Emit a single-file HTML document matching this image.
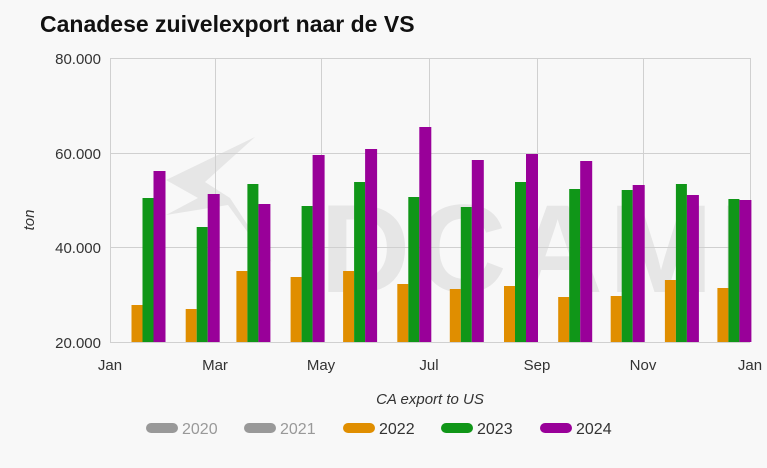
<!DOCTYPE html>
<html><head><meta charset="utf-8"><style>
html,body{margin:0;padding:0;background:#f8f8f8;}
</style></head><body>
<svg width="767" height="463" xmlns="http://www.w3.org/2000/svg" font-family="Liberation Sans, sans-serif">
<rect width="767" height="463" fill="#f8f8f8"/>
<text x="40" y="32" font-size="23" font-weight="bold" fill="#111">Canadese zuivelexport naar de VS</text>
<g fill="#e6e6e6">
<polygon points="255,137 166,180 198,198 166,215 228,205 262,252 272,262 230,198 205,182"/>
<text x="320" y="292" font-size="125" font-weight="bold" letter-spacing="6">DCAMI</text>
</g>
<g stroke="#d0d0d0" stroke-width="1" fill="none">
<line x1="110" y1="58.5" x2="750" y2="58.5"/>
<line x1="110" y1="153.5" x2="750" y2="153.5"/>
<line x1="110" y1="247.5" x2="750" y2="247.5"/>
<line x1="110" y1="342.5" x2="750" y2="342.5"/>
<line x1="110.5" y1="58" x2="110.5" y2="342"/>
<line x1="215.5" y1="58" x2="215.5" y2="342"/>
<line x1="321.5" y1="58" x2="321.5" y2="342"/>
<line x1="429.5" y1="58" x2="429.5" y2="342"/>
<line x1="537.5" y1="58" x2="537.5" y2="342"/>
<line x1="643.5" y1="58" x2="643.5" y2="342"/>
<line x1="750.5" y1="58" x2="750.5" y2="342"/>
</g>
<g font-size="15" fill="#333" text-anchor="end">
<text x="101" y="64">80.000</text>
<text x="101" y="159">60.000</text>
<text x="101" y="253">40.000</text>
<text x="101" y="348">20.000</text>
</g>
<g font-size="15" fill="#333" text-anchor="middle">
<text x="110" y="370">Jan</text>
<text x="215" y="370">Mar</text>
<text x="321" y="370">May</text>
<text x="429" y="370">Jul</text>
<text x="537" y="370">Sep</text>
<text x="643" y="370">Nov</text>
<text x="750" y="370">Jan</text>
</g>
<text x="430" y="404" font-size="15" font-style="italic" fill="#333" text-anchor="middle">CA export to US</text>
<text transform="translate(34,220) rotate(-90)" font-size="15" font-style="italic" fill="#333" text-anchor="middle">ton</text>
<g font-size="16">
<rect x="146" y="423" width="32" height="10" rx="5" fill="#999"/><text x="182" y="434" fill="#999">2020</text>
<rect x="244" y="423" width="32" height="10" rx="5" fill="#999"/><text x="280" y="434" fill="#999">2021</text>
<rect x="343" y="423" width="32" height="10" rx="5" fill="#e08e00"/><text x="379" y="434" fill="#333">2022</text>
<rect x="441" y="423" width="32" height="10" rx="5" fill="#109618"/><text x="477" y="434" fill="#333">2023</text>
<rect x="540" y="423" width="32" height="10" rx="5" fill="#990099"/><text x="576" y="434" fill="#333">2024</text>
</g>
<g>
<rect x="131.5" y="305" width="11" height="37" fill="#e08e00"/><rect x="142.5" y="198" width="11" height="144" fill="#109618"/><rect x="153.5" y="171" width="12" height="171" fill="#990099"/>
<rect x="185.7" y="309" width="11" height="33" fill="#e08e00"/><rect x="196.7" y="227" width="11" height="115" fill="#109618"/><rect x="207.7" y="194" width="12" height="148" fill="#990099"/>
<rect x="236.4" y="271" width="11" height="71" fill="#e08e00"/><rect x="247.4" y="184" width="11" height="158" fill="#109618"/><rect x="258.4" y="204" width="12" height="138" fill="#990099"/>
<rect x="290.6" y="277" width="11" height="65" fill="#e08e00"/><rect x="301.6" y="206" width="11" height="136" fill="#109618"/><rect x="312.6" y="155" width="12" height="187" fill="#990099"/>
<rect x="343.1" y="271" width="11" height="71" fill="#e08e00"/><rect x="354.1" y="182" width="11" height="160" fill="#109618"/><rect x="365.1" y="149" width="12" height="193" fill="#990099"/>
<rect x="397.3" y="284" width="11" height="58" fill="#e08e00"/><rect x="408.3" y="197" width="11" height="145" fill="#109618"/><rect x="419.3" y="127" width="12" height="215" fill="#990099"/>
<rect x="449.8" y="289" width="11" height="53" fill="#e08e00"/><rect x="460.8" y="207" width="11" height="135" fill="#109618"/><rect x="471.8" y="160" width="12" height="182" fill="#990099"/>
<rect x="504.0" y="286" width="11" height="56" fill="#e08e00"/><rect x="515.0" y="182" width="11" height="160" fill="#109618"/><rect x="526.0" y="154" width="12" height="188" fill="#990099"/>
<rect x="558.2" y="297" width="11" height="45" fill="#e08e00"/><rect x="569.2" y="189" width="11" height="153" fill="#109618"/><rect x="580.2" y="161" width="12" height="181" fill="#990099"/>
<rect x="610.7" y="296" width="11" height="46" fill="#e08e00"/><rect x="621.7" y="190" width="11" height="152" fill="#109618"/><rect x="632.7" y="185" width="12" height="157" fill="#990099"/>
<rect x="664.9" y="280" width="11" height="62" fill="#e08e00"/><rect x="675.9" y="184" width="11" height="158" fill="#109618"/><rect x="686.9" y="195" width="12" height="147" fill="#990099"/>
<rect x="717.4" y="288" width="11" height="54" fill="#e08e00"/><rect x="728.4" y="199" width="11" height="143" fill="#109618"/><rect x="739.4" y="200" width="12" height="142" fill="#990099"/>
</g>
</svg>
</body></html>
